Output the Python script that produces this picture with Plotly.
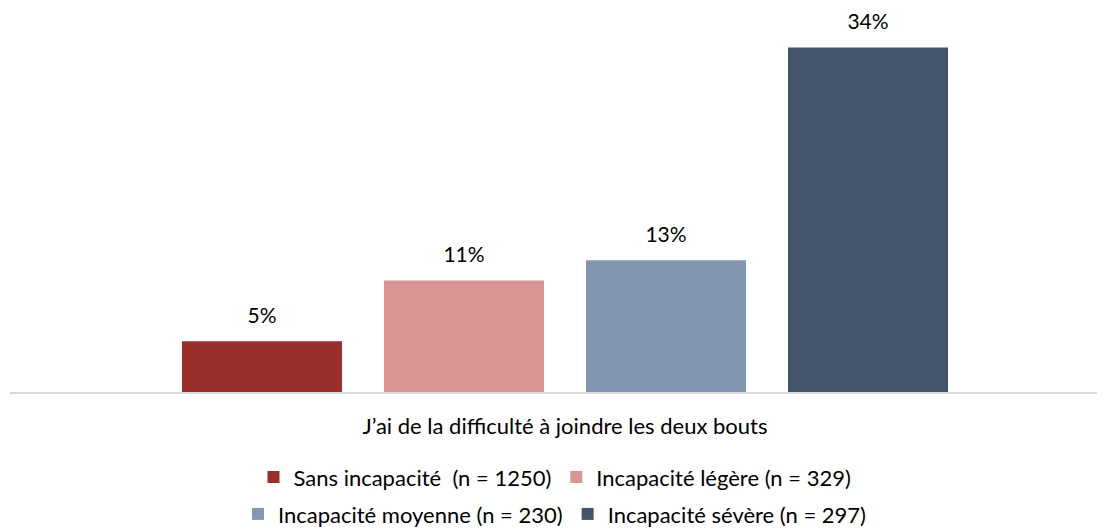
import plotly.graph_objects as go

category = ["J\u2019ai de la difficulté à joindre les deux bouts"]
series = [
    "Sans incapacité  (n = 1250)",
    "Incapacité légère (n = 329)",
    "Incapacité moyenne (n = 230)",
    "Incapacité sévère (n = 297)",
]
values = [5, 11, 13, 34]
colors = ["#992E2A", "#D99594", "#8497B0", "#44546A"]
legend_rows = ["legend", "legend", "legend2", "legend2"]

FONT = "Lato"
FS = 22

fig = go.Figure()
for name, val, col, lg in zip(series, values, colors, legend_rows):
    fig.add_trace(go.Bar(
        x=category,
        y=[val],
        name=name,
        offsetgroup=name,
        marker=dict(color=col, line=dict(width=0)),
        legend=lg,
        hoverinfo="skip",
    ))
    # value labels, grouped the same way as the bars
    fig.add_trace(go.Scatter(
        x=category,
        y=[val],
        offsetgroup=name,
        mode="markers+text",
        marker=dict(size=20, opacity=0),
        text=[f"{val}%"],
        textposition="top center",
        textfont=dict(family=FONT, size=21, color="#000000"),
        cliponaxis=False,
        showlegend=False,
        hoverinfo="skip",
    ))

legend_style = dict(
    orientation="h",
    xanchor="center",
    x=0.4977,
    yanchor="middle",
    font=dict(family=FONT, size=FS, color="#000000"),
    bgcolor="rgba(0,0,0,0)",
    itemclick=False,
)

# page has an 8px body margin, so the figure is sized/placed to compensate
fig.update_layout(
    width=1097,
    height=523,
    margin=dict(l=2, r=0, t=0, b=139, autoexpand=False),
    paper_bgcolor="white",
    plot_bgcolor="white",
    barmode="group",
    bargap=0.272,
    bargroupgap=0.208,
    scattermode="group",
    scattergap=0.272,
    showlegend=True,
    legend=dict(y=-0.222, **legend_style),
    legend2=dict(y=-0.318, **legend_style),
    font=dict(family=FONT, size=FS, color="#000000"),
    xaxis=dict(
        range=[-0.5, 0.4865],
        showline=True,
        linecolor="#D9D9D9",
        linewidth=1.5,
        ticks="",
        ticklabelstandoff=14,
        tickfont=dict(family=FONT, size=FS, color="#000000"),
        showgrid=False,
        zeroline=False,
    ),
    yaxis=dict(
        range=[0, 37.9],
        visible=False,
        showgrid=False,
        zeroline=False,
    ),
)

fig.write_html("out.html")
